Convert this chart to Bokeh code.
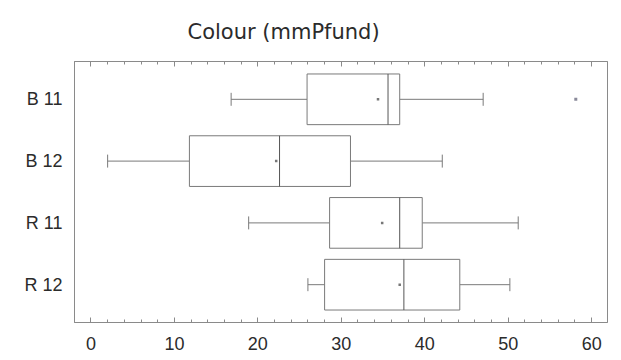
from bokeh.plotting import figure
from bokeh.models import (FactorRange, Range1d, LinearAxis, SingleIntervalTicker,
                          ColumnDataSource, CustomJSTickFormatter)
from bokeh.transform import dodge
from bokeh.embed import file_html
from bokeh.resources import INLINE

# ---- data ----
groups = ["B 11", "B 12", "R 11", "R 12"]
lower_whisker = [16.8, 2.0, 18.9, 26.0]
q1 = [25.9, 11.8, 28.6, 28.0]
median = [35.6, 22.6, 37.0, 37.5]
q3 = [37.0, 31.1, 39.7, 44.2]
upper_whisker = [47.0, 42.1, 51.2, 50.2]
mean = [34.4, 22.2, 34.9, 37.0]
outlier_groups = ["B 11"]
outlier_values = [58.1]
title_text = "Colour (mmPfund)"

LINE = "#7a7a7a"
DARK = "#555555"
TXT = "#2b2b2b"

src = ColumnDataSource(dict(g=groups, lo=lower_whisker, q1=q1, med=median,
                            q3=q3, hi=upper_whisker, mean=mean))
out_src = ColumnDataSource(dict(g=outlier_groups, v=outlier_values))

y_range = FactorRange(factors=list(reversed(groups)), range_padding=0.056)
p = figure(width=621, height=360, y_range=y_range, x_range=Range1d(-1.97, 61.9),
           output_backend="svg", toolbar_location=None, x_axis_location=None,
           title=title_text, min_border_left=74, min_border_right=14,
           min_border_top=60, min_border_bottom=38)

p.xgrid.visible = False
p.ygrid.visible = False
p.outline_line_color = "#8a8a8a"
p.outline_line_width = 1
p.background_fill_color = "white"
p.border_fill_color = "white"

p.title.text_font = "DejaVu Sans"
p.title.text_font_size = "21px"
p.title.text_font_style = "normal"
p.title.text_color = TXT
p.title.align = "left"
p.title.offset = 113
p.title.vertical_align = "bottom"
p.title.text_line_height = 0.6
p.title.standoff = 35

# bottom axis
ticker = SingleIntervalTicker(interval=10, num_minor_ticks=5)
xb = LinearAxis(ticker=ticker)
xb.major_tick_in = 5
xb.major_tick_out = 0
xb.minor_tick_in = 3
xb.minor_tick_out = 0
xb.major_tick_line_color = "#8a8a8a"
xb.minor_tick_line_color = "#8a8a8a"
xb.axis_line_color = "#8a8a8a"
xb.major_label_text_font = "Liberation Sans"
xb.major_label_text_font_size = "18px"
xb.major_label_text_color = TXT
xb.major_label_standoff = 14
p.add_layout(xb, "below")

# top axis (ticks only)
xt = LinearAxis(ticker=SingleIntervalTicker(interval=10, num_minor_ticks=5),
                formatter=CustomJSTickFormatter(code="return ''"))
xt.major_tick_in = 5
xt.major_tick_out = 0
xt.minor_tick_in = 3
xt.minor_tick_out = 0
xt.major_tick_line_color = "#8a8a8a"
xt.minor_tick_line_color = "#8a8a8a"
xt.axis_line_color = "#8a8a8a"
xt.major_label_standoff = 0
p.add_layout(xt, "above")

ya = p.yaxis[0]
ya.major_tick_line_color = None
ya.minor_tick_line_color = None
ya.major_tick_out = 0
ya.major_tick_in = 0
ya.minor_tick_out = 0
ya.axis_line_color = "#8a8a8a"
ya.major_label_text_font = "Liberation Sans"
ya.major_label_text_font_size = "18px"
ya.major_label_text_color = TXT
ya.major_label_standoff = 12

BOX_H = 0.82
CAP = 0.105

# whiskers
p.segment(x0="lo", y0="g", x1="q1", y1="g", source=src, line_color=LINE, line_width=1)
p.segment(x0="q3", y0="g", x1="hi", y1="g", source=src, line_color=LINE, line_width=1)
# caps
p.segment(x0="lo", y0=dodge("g", -CAP, range=y_range), x1="lo",
          y1=dodge("g", CAP, range=y_range), source=src, line_color=LINE)
p.segment(x0="hi", y0=dodge("g", -CAP, range=y_range), x1="hi",
          y1=dodge("g", CAP, range=y_range), source=src, line_color=LINE)
# boxes
p.hbar(y="g", left="q1", right="q3", height=BOX_H, source=src,
       fill_color="white", line_color=LINE, line_width=1)
# medians
p.segment(x0="med", y0=dodge("g", -BOX_H / 2, range=y_range), x1="med",
          y1=dodge("g", BOX_H / 2, range=y_range), source=src,
          line_color=DARK, line_width=1)
# means
p.scatter(x="mean", y="g", source=src, marker="square", size=2.5,
          fill_color="#777777", line_color=None)
# outliers
p.scatter(x="v", y="g", source=out_src, marker="square", size=3,
          fill_color="#8a8a9a", line_color=None)

open("out.html", "w").write(file_html(p, INLINE))
